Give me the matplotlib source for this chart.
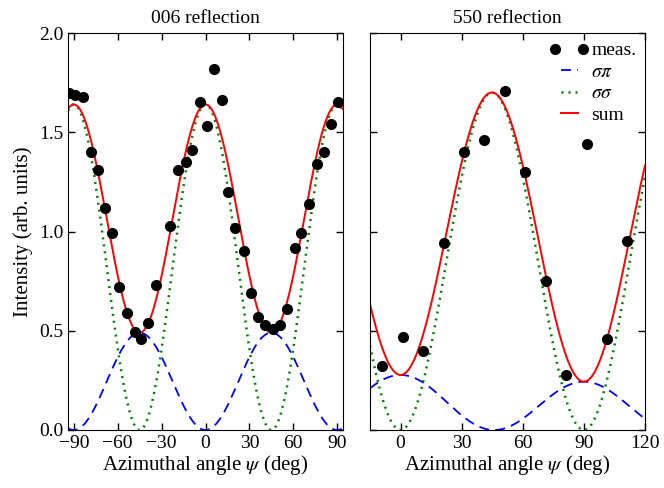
import numpy as np
import matplotlib.pyplot as plt
from matplotlib.legend_handler import HandlerLine2D

# measured points, 006 reflection
psi_006 = [-93.5, -89, -84, -78.5, -73.5, -68.5, -64, -59, -54, -48.5, -44, -39, -34,
           -24, -19, -13.5, -9, -4, 1, 6, 11, 15.5, 20.5, 26, 31, 36, 41, 46, 51,
           56, 61, 65.5, 71, 76, 81, 86, 90.5]
int_006 = [1.70, 1.69, 1.68, 1.40, 1.31, 1.12, 0.99, 0.72, 0.59, 0.495, 0.46, 0.54, 0.73,
           1.03, 1.31, 1.35, 1.41, 1.65, 1.53, 1.82, 1.66, 1.20, 1.02, 0.90, 0.69, 0.57,
           0.53, 0.51, 0.53, 0.61, 0.915, 0.99, 1.14, 1.34, 1.40, 1.54, 1.65]

# measured points, 550 reflection
psi_550 = [-9, 1.3, 11, 21.3, 31.2, 41.2, 51.4, 61.3, 71.3, 81.3, 91.4, 101.4, 111.3]
int_550 = [0.32, 0.467, 0.40, 0.94, 1.40, 1.46, 1.71, 1.30, 0.75, 0.277, 1.44, 0.46, 0.95]

# fitted model amplitudes
ss_006 = 1.64   # sigma-sigma, cos^2(2psi)
sp_006 = 0.49   # sigma-pi, sin^2(2psi)
ss_550 = 1.70   # sigma-sigma, sin^2(2psi)
sp_550 = (0.51, 0.0166)  # sigma-pi, (a cos(2psi) + b)^2

plt.rcParams['font.family'] = ['Liberation Serif', 'DejaVu Serif']
plt.rcParams['mathtext.fontset'] = 'stix'
plt.rcParams['font.size'] = 14

fig = plt.figure(figsize=(6.64, 4.88), dpi=100)
ax1 = fig.add_axes([68/664, 1-430/488, 275/664, 397/488])
ax2 = fig.add_axes([370/664, 1-430/488, 275/664, 397/488])

t1 = np.linspace(-94, 94, 600)
r1 = np.radians(2*t1)
sp1 = sp_006*np.sin(r1)**2
ss1 = ss_006*np.cos(r1)**2

t2 = np.linspace(-15, 120, 600)
r2 = np.radians(2*t2)
sp2 = (sp_550[0]*np.cos(r2) + sp_550[1])**2
ss2 = ss_550*np.sin(r2)**2

for ax, t, sp, ss, px, py in [(ax1, t1, sp1, ss1, psi_006, int_006),
                              (ax2, t2, sp2, ss2, psi_550, int_550)]:
    meas, = ax.plot(px, py, 'o', color='k', ms=7, label='meas.', zorder=5)
    ax.plot(t, sp, color='b', lw=1.3, dashes=(5.5, 3.5), label=r'$\sigma\pi$')
    ax.plot(t, ss, color='green', lw=1.8, dashes=(0.8, 2.0), label=r'$\sigma\sigma$')
    ax.plot(t, sp + ss, color='r', lw=1.4, label='sum')
    ax.set_ylim(0, 2)
    ax.set_yticks([0, 0.5, 1.0, 1.5, 2.0])
    ax.tick_params(direction='in', top=True, right=True, length=5, width=1, labelsize=14)
    ax.set_xlabel(r'Azimuthal angle $\psi$ (deg)', fontsize=15, labelpad=1)

ax1.set_xlim(-94, 94)
ax1.set_xticks(range(-90, 91, 30))
ax1.set_xticklabels(['\u221290', '\u221260', '\u221230', '0', '30', '60', '90'])
ax1.set_ylabel('Intensity (arb. units)', fontsize=15, labelpad=4)
ax1.set_title('006 reflection', fontsize=14, pad=7)

ax2.set_xlim(-15, 120)
ax2.set_xticks(range(0, 121, 30))
ax2.tick_params(labelleft=False)
ax2.set_title('550 reflection', fontsize=14, pad=7)
ax2.legend(loc='upper right', frameon=False, numpoints=2, handlelength=1.45,
           borderaxespad=0.05, labelspacing=0.2, handletextpad=0.4, fontsize=14,
           handler_map={meas: HandlerLine2D(marker_pad=0, numpoints=2)})

fig.savefig('out.png', dpi=100)
